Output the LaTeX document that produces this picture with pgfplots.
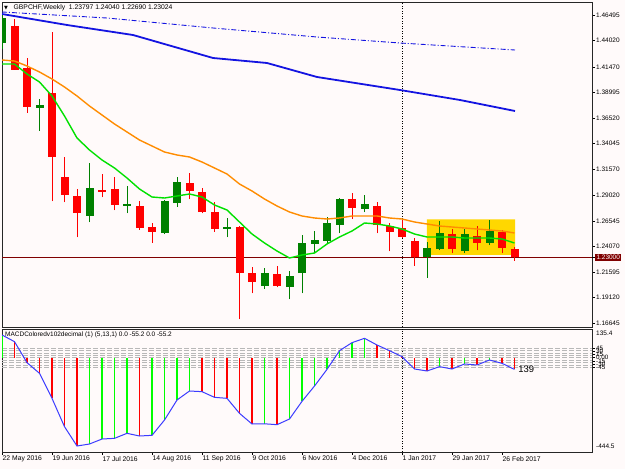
\documentclass[border=0pt]{standalone}
\usepackage{fontspec}
\setmainfont{Liberation Sans}
\newfontfamily\dejavu{DejaVu Sans}
\usepackage{pgfplots}
\usepackage{pgfplotstable}
\pgfplotsset{compat=1.18}
\definecolor{bg}{RGB}{255,250,250}
\definecolor{cgreen}{RGB}{0,128,0}
\definecolor{cred}{RGB}{255,0,0}
\definecolor{maorange}{RGB}{255,140,0}
\definecolor{malime}{RGB}{0,225,0}
\definecolor{mablue}{RGB}{20,20,225}
\definecolor{boxy}{RGB}{255,215,0}
\definecolor{hlime}{RGB}{0,255,0}
\definecolor{macdblue}{RGB}{60,60,255}
\definecolor{maroonc}{RGB}{128,0,0}

% bullish candles
\pgfplotstableread{
i O H L C
0 1.43781 1.46495 1.43200 1.46204
3 1.37482 1.38354 1.35253 1.37772
7 1.27015 1.32151 1.26433 1.29728
10 1.27984 1.29922 1.27305 1.28178
13 1.25367 1.28565 1.25270 1.28468
14 1.28274 1.30794 1.27887 1.30310
18 1.25755 1.26821 1.24979 1.25948
21 1.20230 1.21975 1.19940 1.21490
23 1.20133 1.21684 1.18970 1.21199
24 1.21490 1.25173 1.19552 1.24398
25 1.24301 1.25561 1.23428 1.24688
26 1.24592 1.26918 1.24301 1.26336
27 1.26142 1.28759 1.25367 1.28662
29 1.27693 1.29050 1.27402 1.28178
34 1.23041 1.24495 1.21006 1.23913
35 1.23816 1.26530 1.23719 1.25367
37 1.23622 1.25755 1.23428 1.25270
39 1.24398 1.26627 1.24204 1.25561
}\greenT

% bearish candles
\pgfplotstableread{
i O H L C
1 1.45429 1.46107 1.41165 1.41165
2 1.41358 1.42328 1.36997 1.37579
4 1.38935 1.44847 1.28468 1.32733
5 1.30794 1.32733 1.28371 1.29050
6 1.28953 1.29631 1.24979 1.27305
8 1.29486 1.31085 1.28856 1.29389
9 1.29631 1.30794 1.27596 1.28081
11 1.27984 1.28468 1.25658 1.25852
12 1.25948 1.26336 1.24398 1.25464
15 1.30213 1.31182 1.28662 1.29437
16 1.29341 1.29728 1.27305 1.27402
17 1.27402 1.28371 1.25464 1.25755
19 1.25948 1.26045 1.17032 1.21490
20 1.21490 1.22072 1.19552 1.20618
22 1.21393 1.22169 1.20133 1.20230
28 1.28662 1.29244 1.26724 1.27790
30 1.27984 1.28371 1.25367 1.26142
31 1.26045 1.26336 1.23622 1.25464
32 1.25852 1.26627 1.24882 1.24979
33 1.24592 1.24882 1.22169 1.23041
36 1.25270 1.25755 1.23428 1.23816
38 1.25076 1.26045 1.23719 1.24398
40 1.25464 1.25658 1.23428 1.23913
41 1.23797 1.24040 1.22690 1.23024
}\redT

\pgfplotsset{
  candle/.style n args={2}{only marks, mark size=0pt, mark options={draw=none, fill=none}, forget plot,
    error bars/.cd, y dir=plus, y explicit, error mark=none,
    error bar style={draw=#1, line width=#2, solid}},
}

\begin{document}
\begin{tikzpicture}
\fill[bg] (0bp,0bp) rectangle (625bp,469bp);

% ---------------- main price panel ----------------
\begin{axis}[
  at={(2bp,142bp)}, anchor=south west, scale only axis,
  width=590bp, height=325bp,
  xmin=0, xmax=47.2, ymin=1.16257, ymax=1.47755,
  axis background/.style={fill=bg},
  axis line style={black!85, line width=0.7bp},
  xtick=\empty,
  ytick pos=right,
  ytick={1.46495,1.44020,1.41470,1.38995,1.36520,1.34045,1.31570,1.29020,1.26545,1.24070,1.21595,1.19120,1.16645},
  yticklabels={1.46495,1.44020,1.41470,1.38995,1.36520,1.34045,1.31570,1.29020,1.26545,1.24070,1.21595,1.19120,1.16645},
  tick align=outside, major tick length=3bp,
  tick style={black, line width=0.6bp},
  yticklabel style={font=\fontsize{6.5}{7}\selectfont, inner sep=1bp},
  extra y ticks={1.23}, extra y tick labels={1.23000},
  extra y tick style={grid=major, major grid style={maroonc, line width=0.9bp},
     yticklabel style={fill=maroonc, text=white, inner sep=1.3bp}},
  extra x ticks={32}, extra x tick labels={},
  extra x tick style={grid=major, major tick length=0bp,
     major grid style={black, line width=0.7bp, dash pattern=on 1bp off 1.5bp}},
]
% highlighted range
\addplot[fill=boxy, draw=none, forget plot] coordinates {(33.98,1.23235) (41.04,1.23235) (41.04,1.26695) (33.98,1.26695) (33.98,1.23235)};

% wicks
\addplot[candle={cgreen}{1bp}] table[x=i, y=L, y error plus expr=\thisrow{H}-\thisrow{L}] {\greenT};
\addplot[candle={cred}{1bp}] table[x=i, y=L, y error plus expr=\thisrow{H}-\thisrow{L}] {\redT};
% bodies
\addplot[candle={cgreen}{8bp}] table[x=i, y=O, y error plus expr=\thisrow{C}-\thisrow{O}+0.0004] {\greenT};
\addplot[candle={cred}{8bp}] table[x=i, y=C, y error plus expr=\thisrow{O}-\thisrow{C}+0.0004] {\redT};

% slow MA (dash-dot)
\addplot[mablue, line width=0.9bp, dash pattern=on 5bp off 2bp on 1bp off 2bp] coordinates {
(0,1.46786) (8.4,1.46204) (16.88,1.45235) (25.2,1.44363) (31.84,1.43781) (41.04,1.43103)};
% MA blue
\addplot[mablue, line width=1.8bp] coordinates {
(0,1.46592) (5.2,1.45526) (10.48,1.44557) (16.88,1.42328) (21.2,1.41843) (25.2,1.40486) (31.84,1.39226) (36.64,1.38257) (41.04,1.37191)};
% orange MA
\addplot[maorange, line width=1.4bp] coordinates {
(0,1.42134) (1,1.42037) (2,1.41552) (3,1.40971) (4,1.40292) (5,1.39517) (6,1.38645) (7,1.37675)
(8,1.36803) (9,1.35931) (10,1.35156) (11,1.34380) (12,1.33799) (13,1.33217) (14,1.32927) (15,1.32733)
(16,1.32248) (17,1.31667) (18,1.31085) (19,1.30116) (20,1.29437) (21,1.28662) (22,1.27984) (23,1.27402)
(24,1.27015) (25,1.26821) (26,1.26724) (27,1.26821) (28,1.27015) (29,1.27015) (30,1.27015) (31,1.26821)
(32,1.26724) (33,1.26433) (34,1.26239) (35,1.26045) (36,1.25948) (37,1.25852) (38,1.25755) (39,1.25658)
(40,1.25561) (41,1.25367)};
% green MA
\addplot[malime, line width=1.4bp] coordinates {
(0,1.41746) (1,1.41746) (2,1.40777) (3,1.40001) (4,1.38645) (5,1.36706) (6,1.34574) (7,1.33411)
(8,1.32442) (9,1.31667) (10,1.30697) (11,1.29631) (12,1.28856) (13,1.28759) (14,1.28953) (15,1.29147)
(16,1.28856) (17,1.28081) (18,1.27596) (19,1.26433) (20,1.25270) (21,1.24398) (22,1.23622) (23,1.22944)
(24,1.23235) (25,1.23428) (26,1.24301) (27,1.24979) (28,1.25561) (29,1.26336) (30,1.26239) (31,1.26045)
(32,1.25755) (33,1.25270) (34,1.24979) (35,1.24979) (36,1.24979) (37,1.24882) (38,1.24882) (39,1.24882)
(40,1.24785) (41,1.24398)};
\end{axis}

% ---------------- MACD panel ----------------
\begin{axis}[
  at={(2bp,17bp)}, anchor=south west, scale only axis,
  width=590bp, height=123bp,
  xmin=0, xmax=47.2, ymin=-444.5, ymax=135.4,
  axis background/.style={fill=bg},
  axis line style={black!85, line width=0.7bp},
  xtick pos=bottom, ytick pos=right,
  xtick={0,4,8,12,16,20,24,28,32,36,40},
  xticklabels={22 May 2016,19 Jun 2016,17 Jul 2016,14 Aug 2016,11 Sep 2016,9 Oct 2016,6 Nov 2016,4 Dec 2016,1 Jan 2017,29 Jan 2017,26 Feb 2017},
  xticklabel style={anchor=north west, inner sep=1bp, xshift=-0.5bp, font=\fontsize{6.8}{8}\selectfont},
  ytick={45,30,15,0,-15,-30,-45},
  yticklabels={45,30,15,0.00,-15,-30,-45},
  yticklabel style={font=\fontsize{6.3}{7}\selectfont, inner sep=1bp},
  tick align=outside, major tick length=3bp,
  tick style={black, line width=0.6bp},
  extra y ticks={45,33.75,22.5,11.25,0,-11.25,-22.5,-33.75,-45},
  extra y tick labels={},
  extra y tick style={grid=major, major tick length=0bp,
     major grid style={black!28, line width=0.6bp, dash pattern=on 5bp off 2bp}},
  extra x ticks={32}, extra x tick labels={},
  extra x tick style={grid=major, major tick length=0bp,
     major grid style={black, line width=0.7bp, dash pattern=on 1bp off 1.5bp}},
]
\addplot[ycomb, hlime, line width=1.8bp, forget plot] coordinates {
(0,107.1) (7,-406.8) (8,-383.3) (9,-380.1) (10,-356.5) (12,-365.9) (13,-293.7) (14,-199.4) (15,-156.9)
(21,-311.5) (23,-289.0) (24,-205.6) (25,-133.4) (26,-54.8) (27,33.2) (28,71.0) (29,91.4)
(35,-42.2) (37,-29.6) (39,-10.8)};
\addplot[ycomb, cred, line width=1.8bp, forget plot] coordinates {
(1,75.7) (2,-23.3) (3,-73.6) (4,-191.5) (5,-325.1) (6,-416.3) (11,-369.1) (16,-160.1) (17,-186.8)
(18,-191.5) (19,-262.2) (20,-312.5) (22,-315.7) (30,60.0) (31,33.2) (32,5.0) (33,-53.2) (34,-62.6)
(36,-53.2) (38,-34.3) (40,-26.5) (41,-55.2)};
\addplot[macdblue, line width=1bp] coordinates {
(0,107.1) (1,75.7) (2,-23.3) (3,-73.6) (4,-191.5) (5,-325.1) (6,-416.3) (7,-406.8) (8,-383.3) (9,-380.1)
(10,-356.5) (11,-369.1) (12,-365.9) (13,-293.7) (14,-199.4) (15,-156.9) (16,-160.1) (17,-186.8)
(18,-191.5) (19,-262.2) (20,-312.5) (21,-311.5) (22,-315.7) (23,-289.0) (24,-205.6) (25,-133.4)
(26,-54.8) (27,33.2) (28,71.0) (29,91.4) (30,60.0) (31,33.2) (32,5.0) (33,-53.2) (34,-62.6)
(35,-42.2) (36,-53.2) (37,-29.6) (38,-34.3) (39,-10.8) (40,-26.5) (41,-55.2)};
\node[anchor=west, inner sep=0pt, font=\fontsize{9.5}{10}\selectfont] at (axis cs:41.3,-55.2) {139};
\end{axis}

% texts
\node[anchor=west, inner sep=0pt, font=\dejavu\fontsize{5}{6}\selectfont] at (4bp,461bp) {▼};
\node[anchor=west, inner sep=0pt, font=\fontsize{6.8}{8}\selectfont] at (13.5bp,461bp) {GBPCHF,Weekly\ \ 1.23797 1.24040 1.22690 1.23024};
\node[anchor=west, inner sep=0pt, font=\fontsize{6.5}{8}\selectfont] at (5bp,134.5bp) {MACDColoredv102decimal (1) (5,13,1) 0.0 -55.2 0.0 -55.2};
\node[anchor=west, inner sep=0pt, font=\fontsize{6.5}{7}\selectfont] at (596bp,135.7bp) {135.4};
\node[anchor=west, inner sep=0pt, font=\fontsize{6.5}{7}\selectfont] at (596bp,22.3bp) {-444.5};

\pgfresetboundingbox
\useasboundingbox (0bp,0bp) rectangle (625bp,469bp);
\end{tikzpicture}
\end{document}
